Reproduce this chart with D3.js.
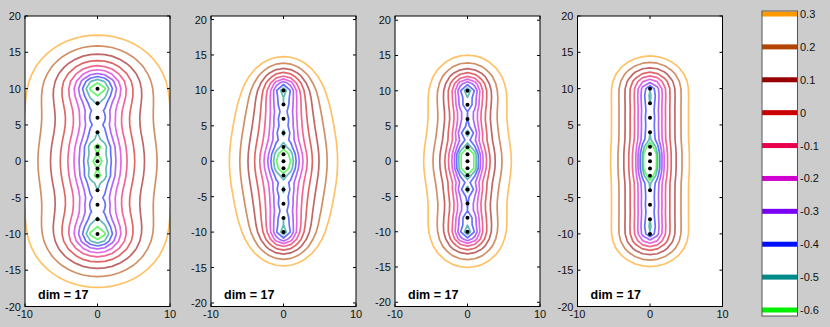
<!DOCTYPE html>
<html>
<head>
<meta charset="utf-8">
<script src="https://cdn.jsdelivr.net/npm/d3@7"></script>
<style>
  body { margin: 0; background: #cccccc; }
  svg { display: block; }
  text { font-family: "Liberation Sans", Arial, sans-serif; }
</style>
</head>
<body>
<svg id="chart" width="830" height="327"></svg>
<script>
// the dots, all on x = 0
var pointY = [10, 8, 6, 4, 2, 1, 0, -1, -2, -4, -6, -8, -10];

// contour levels and their colours (same order as the colorbar, bottom to top)
var levels = [-0.6, -0.5, -0.4, -0.3, -0.2, -0.1, 0, 0.1, 0.2, 0.3];
var levelLabels = ["-0.6", "-0.5", "-0.4", "-0.3", "-0.2", "-0.1", "0", "0.1", "0.2", "0.3"];
var levelColors = ["#00f000", "#008a8a", "#0010ff", "#7a00f5", "#d000d0", "#e8004c", "#cc0000", "#960000", "#b24400", "#ff9a00"];

var xTicks = [-10, 0, 10];
var yTicks = [-20, -15, -10, -5, 0, 5, 10, 15, 20];
var panelTitles = ["dim = 17", "dim = 17", "dim = 17", "dim = 17"];
var yLimits = [20, 20.5, 20.6, 20];

// weight of every dot, per panel (estimated so the contours match the picture)
var weights1 = [1.713, 0.356, 0.409, 0.360, 0.939, 0.050, 1, 0.050, 0.939, 0.360, 0.409, 0.356, 1.713];
var weights2 = [1.108, 0.620, 0.634, 0.721, 0.194, 0.889, 1, 0.889, 0.194, 0.721, 0.634, 0.620, 1.108];
var weights3 = [2.096, 1.431, 0.854, 1.824, 0.416, 3.336, 1, 3.336, 0.416, 1.824, 0.854, 1.431, 2.096];
var weights4 = [1.743, 1.469, 1.512, 1.505, 1.356, 1.090, 1, 1.090, 1.356, 1.505, 1.512, 1.469, 1.743];
var panelWeights = [weights1, weights2, weights3, weights4];

// kernel width, kernel shape, vertical stretch, level offset, level gain, log floor
var kernelWidth = [0.842, 0.807, 0.771, 1.247];
var kernelShape = [4.908, 2.510, 8.780, 200.04];
var yStretch = [0.816, 1.035, 0.999, 0.855];
var levelOffset = [-3.5963, -3.9323, -0.8067, -0.2474];
var levelGain = [1.4361, 1.9967, 0.4951, 0.2497];
var logFloor = [7.3584, 4.8676, 0.9179, 0.0154];

var layout = { top: 16, bottom: 306.5, width: 145, lefts: [25, 211, 395, 577.5] };

function fieldOf(i) {
  var w = panelWeights[i], na2 = kernelShape[i] * kernelWidth[i] * kernelWidth[i];
  var hp = -kernelShape[i] / 2, s = yStretch[i];
  function V(x, y) {
    var v = 0;
    for (var k = 0; k < pointY.length; k++) {
      var dy = (y - pointY[k]) / s;
      v += w[k] * Math.pow(1 + (x * x + dy * dy) / na2, hp);
    }
    return v;
  }
  var vmax = 0;
  for (var yy = 0; yy <= 11; yy++) vmax = Math.max(vmax, V(0, yy));
  return function(x, y) {
    return levelOffset[i] + levelGain[i] * Math.log(Math.max(Math.log(vmax / V(x, y)), 0) + logFloor[i]);
  };
}

var svg = d3.select("#chart");

panelTitles.forEach(function(title, i) {
  var left = layout.lefts[i];
  var x = d3.scaleLinear().domain([-10, 10]).range([left, left + layout.width]);
  var y = d3.scaleLinear().domain([-yLimits[i], yLimits[i]]).range([layout.bottom, layout.top]);
  var g = svg.append("g");

  g.append("rect").attr("x", left).attr("y", layout.top)
    .attr("width", layout.width).attr("height", layout.bottom - layout.top).attr("fill", "#fff");
  svg.append("clipPath").attr("id", "clip" + i).append("rect")
    .attr("x", left).attr("y", layout.top).attr("width", layout.width).attr("height", layout.bottom - layout.top);

  // field on a 1-unit grid, then contoured
  var f = fieldOf(i), nx = 25, ny = 45, gx0 = -12, gy0 = -22;
  var values = new Array(nx * ny);
  for (var j = 0; j < ny; j++) for (var k = 0; k < nx; k++) values[j * nx + k] = f(gx0 + k, gy0 + j);
  var contours = d3.contours().size([nx, ny]).thresholds(levels)(values);
  var path = d3.geoPath(d3.geoTransform({ point: function(px, py) {
    this.stream.point(x(gx0 + px - 0.5), y(gy0 + py - 0.5));
  } }));
  g.append("g").attr("clip-path", "url(#clip" + i + ")")
    .selectAll("path").data(contours).join("path")
    .attr("d", path).attr("fill", "none")
    .attr("stroke", function(d, k) { return levelColors[k]; })
    .attr("stroke-width", 1.7).attr("stroke-opacity", 0.6).attr("stroke-linejoin", "round");

  g.selectAll("circle").data(pointY).join("circle")
    .attr("cx", x(0)).attr("cy", function(d) { return y(d); }).attr("r", 2).attr("fill", "#000");

  g.append("rect").attr("x", left).attr("y", layout.top)
    .attr("width", layout.width).attr("height", layout.bottom - layout.top)
    .attr("fill", "none").attr("stroke", "#000");

  xTicks.forEach(function(t) {
    g.append("line").attr("x1", x(t)).attr("x2", x(t)).attr("y1", layout.bottom).attr("y2", layout.bottom - 3).attr("stroke", "#000");
    g.append("line").attr("x1", x(t)).attr("x2", x(t)).attr("y1", layout.top).attr("y2", layout.top + 3).attr("stroke", "#000");
    g.append("text").attr("x", x(t)).attr("y", 318).attr("text-anchor", "middle")
      .attr("font-size", 11).attr("fill", "#111").text(t);
  });
  yTicks.forEach(function(t) {
    g.append("line").attr("x1", left).attr("x2", left + 3).attr("y1", y(t)).attr("y2", y(t)).attr("stroke", "#000");
    g.append("line").attr("x1", left + layout.width).attr("x2", left + layout.width - 3).attr("y1", y(t)).attr("y2", y(t)).attr("stroke", "#000");
    g.append("text").attr("x", left - 4).attr("y", y(t) + 4).attr("text-anchor", "end")
      .attr("font-size", 11).attr("fill", "#111").text(t);
  });
  g.append("text").attr("x", left + 13).attr("y", 299).attr("font-size", 12.5)
    .attr("font-weight", "bold").attr("fill", "#000").text(title);
});

// colorbar
var cb = { left: 762, right: 797.5, top: 11, bottom: 316 };
var cy = d3.scaleLinear().domain([-0.6, 0.3]).range([310, 14]);
svg.append("rect").attr("x", cb.left).attr("y", cb.top).attr("width", cb.right - cb.left)
  .attr("height", cb.bottom - cb.top).attr("fill", "#fff");
svg.selectAll(".band").data(levels).join("rect").attr("class", "band")
  .attr("x", cb.left).attr("width", cb.right - cb.left)
  .attr("y", function(d) { return cy(d) - 2.5; }).attr("height", 5)
  .attr("fill", function(d, k) { return levelColors[k]; });
svg.append("rect").attr("x", cb.left).attr("y", cb.top).attr("width", cb.right - cb.left)
  .attr("height", cb.bottom - cb.top).attr("fill", "none").attr("stroke", "#555");
svg.selectAll(".cblab").data(levels).join("text").attr("class", "cblab")
  .attr("x", cb.right + 2.5).attr("y", function(d) { return cy(d) + 4; })
  .attr("font-size", 11).attr("fill", "#111")
  .text(function(d, k) { return levelLabels[k]; });
</script>
</body>
</html>
